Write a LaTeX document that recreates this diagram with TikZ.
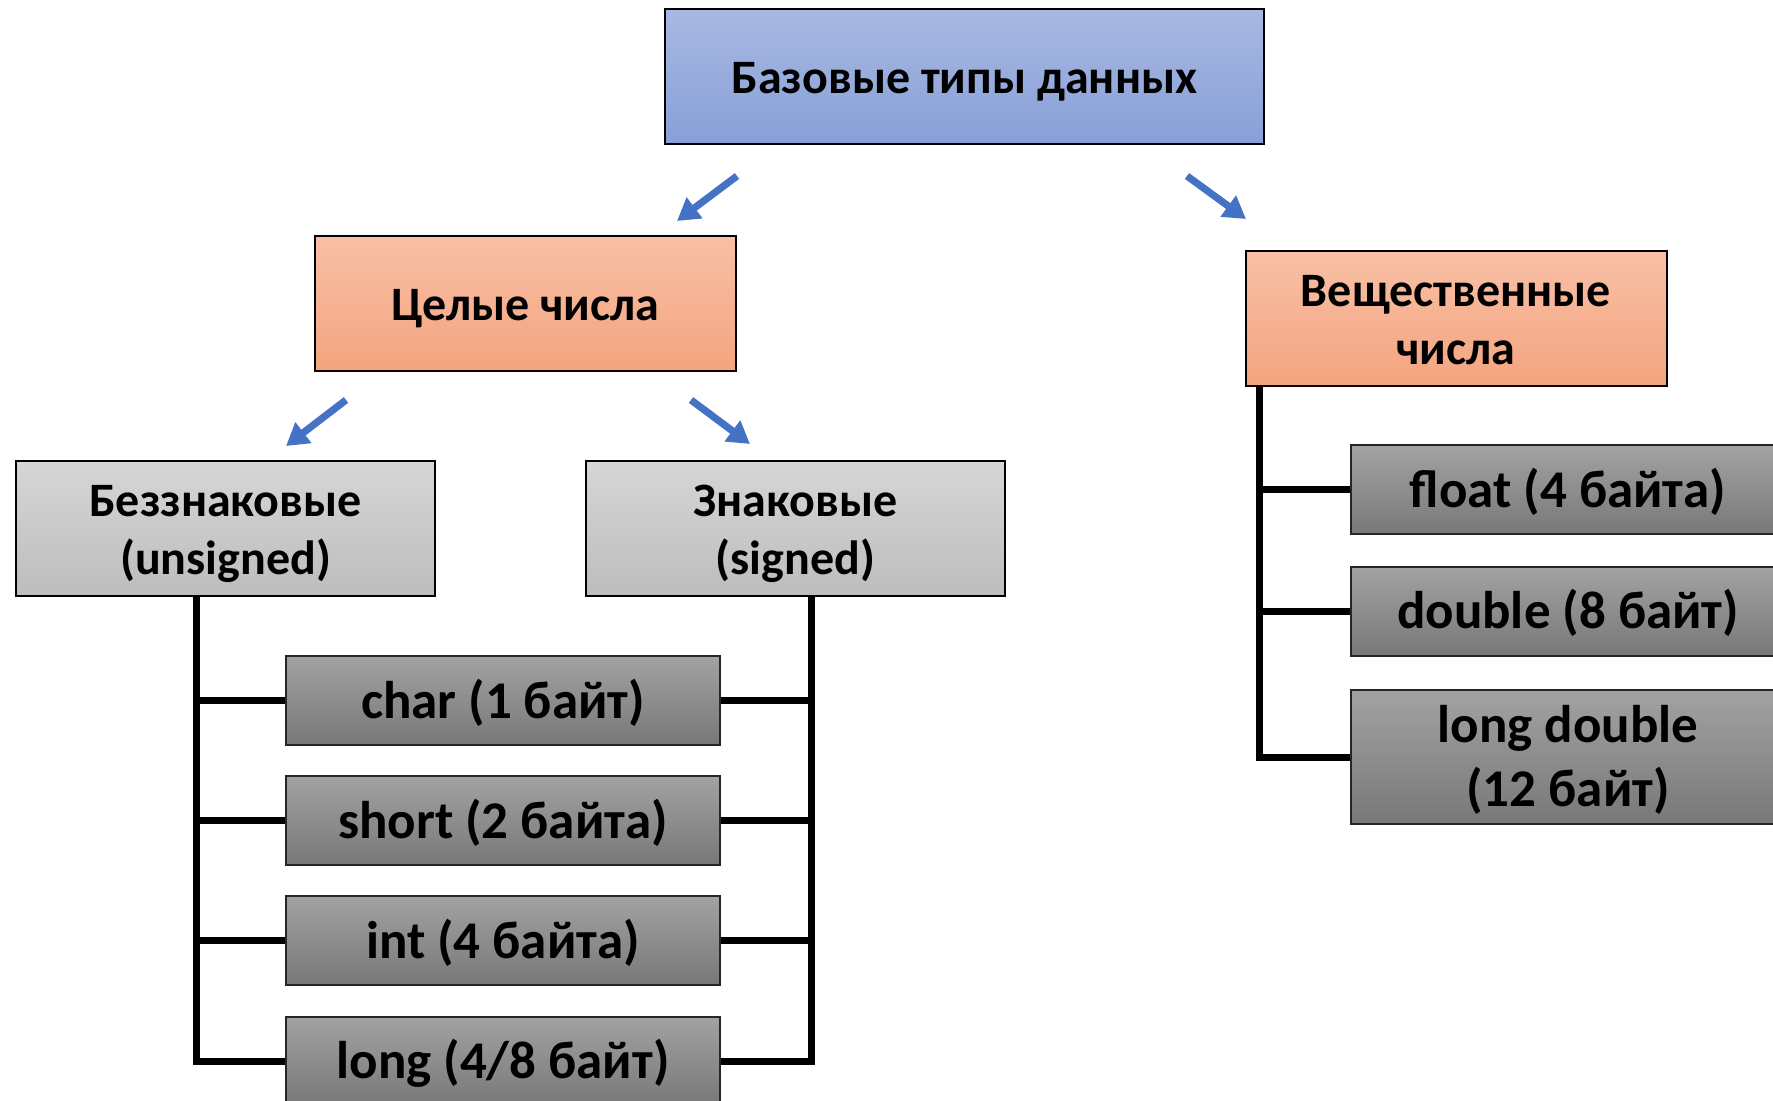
\documentclass[tikz,border=0pt]{standalone}
\usepackage{fontspec}
\setmainfont{Carlito}
\usetikzlibrary{arrows.meta,calc}
\definecolor{blueT}{HTML}{A9B8E1}
\definecolor{blueB}{HTML}{87A0D8}
\definecolor{orT}{HTML}{F8C0A6}
\definecolor{orB}{HTML}{F4A47F}
\definecolor{lgT}{HTML}{D6D6D6}
\definecolor{lgB}{HTML}{BDBDBD}
\definecolor{dgT}{HTML}{A2A2A2}
\definecolor{dgB}{HTML}{787878}
\definecolor{arr}{HTML}{4472C4}
\newcommand\lowtxt[1]{\raisebox{-2.5pt}[\height][\depth]{\begin{tabular}{@{}c@{}}#1\end{tabular}}}
\begin{document}
\begin{tikzpicture}[x=0.5pt,y=-0.5pt,
  boxbase/.style={draw=black, line width=1pt, inner sep=0pt, align=center, font=\bfseries\fontsize{24}{29}\selectfont},
  topbox/.style={boxbase, top color=blueT, bottom color=blueB, minimum width=299.5pt, minimum height=67.5pt},
  orbox/.style={boxbase, top color=orT, bottom color=orB, minimum width=210.5pt, minimum height=67.5pt},
  lgbox/.style={boxbase, top color=lgT, bottom color=lgB, minimum width=209.5pt, minimum height=67.5pt},
  dgbox/.style={boxbase, draw=black!85, top color=dgT, bottom color=dgB, minimum width=217pt, minimum height=44.5pt, font=\bfseries\fontsize{26.5}{32}\selectfont},
  tree/.style={line width=3.5pt, black},
  barrow/.style={line width=3.6pt, arr, -{Triangle[length=11pt,width=12.5pt]}}
]
\useasboundingbox (0,0) rectangle (1773,1101);
\clip (0,0) rectangle (1773,1101);

\node[topbox] (base) at (964.5,76.5) {\lowtxt{Базовые типы данных}};
\node[orbox] (int) at (525.5,303.5) {\lowtxt{Целые числа}};
\node[orbox] (real) at (1456,318.5) {\lowtxt{Вещественные\\числа}};
\node[lgbox] (uns) at (225.5,528.5) {\lowtxt{Беззнаковые\\(unsigned)}};
\node[lgbox] (sig) at (795.5,528.5) {\lowtxt{Знаковые\\(signed)}};

\node[dgbox] (char) at (503,700.5) {\lowtxt{char (1 байт)}};
\node[dgbox] (short) at (503,820.5) {\lowtxt{short (2 байта)}};
\node[dgbox] (intt) at (503,940.5) {\lowtxt{int (4 байта)}};
\node[dgbox] (long) at (503,1061) {\lowtxt{long (4/8 байт)}};

\node[dgbox] (float) at (1568,490) {\lowtxt{float (4 байта)}};
\node[dgbox] (double) at (1568,611) {\lowtxt{double (8 байт)}};
\node[dgbox, minimum height=67pt] (ldouble) at (1568,757) {\lowtxt{long double\\(12 байт)}};

% arrows
\coordinate (a1s) at (737,176); \coordinate (a1e) at (677,221);
\coordinate (a2s) at (1187,176); \coordinate (a2e) at (1246,219);
\coordinate (a3s) at (346,400); \coordinate (a3e) at (286,446);
\coordinate (a4s) at (691,400); \coordinate (a4e) at (750,444);
\draw[barrow] (a1s) -- (a1e);
\draw[barrow] (a2s) -- (a2e);
\draw[barrow] (a3s) -- (a3e);
\draw[barrow] (a4s) -- (a4e);

% left tree (unsigned)
\coordinate (ul) at ($(uns.south)+(-29.5,0)$);
\draw[tree] (ul) |- (long.west);
\draw[tree] (ul |- char.west) -- (char.west);
\draw[tree] (ul |- short.west) -- (short.west);
\draw[tree] (ul |- intt.west) -- (intt.west);
% signed tree
\coordinate (sl) at ($(sig.south)+(15.5,0)$);
\draw[tree] (sl) |- (long.east);
\draw[tree] (sl |- char.east) -- (char.east);
\draw[tree] (sl |- short.east) -- (short.east);
\draw[tree] (sl |- intt.east) -- (intt.east);
% real tree
\coordinate (rl) at ($(real.south west)+(15,0)$);
\draw[tree] (rl) |- (ldouble.west);
\draw[tree] (rl |- float.west) -- (float.west);
\draw[tree] (rl |- double.west) -- (double.west);
\end{tikzpicture}
\end{document}
